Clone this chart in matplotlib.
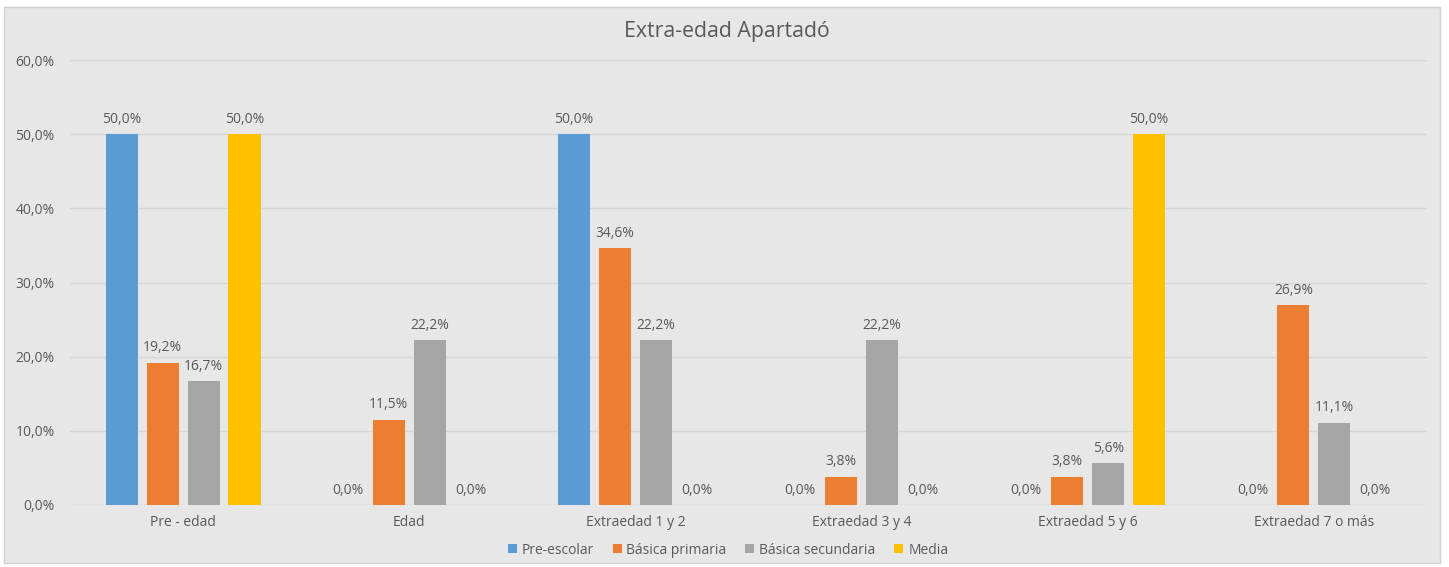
import numpy as np
import matplotlib.pyplot as plt
from matplotlib.patches import Rectangle

categories = ["Pre - edad", "Edad", "Extraedad 1 y 2", "Extraedad 3 y 4",
              "Extraedad 5 y 6", "Extraedad 7 o más"]
series_names = ["Pre-escolar", "Básica primaria", "Básica secundaria", "Media"]
pre_escolar = [50.0, 0.0, 50.0, 0.0, 0.0, 0.0]
basica_primaria = [19.2, 11.5, 34.6, 3.8, 3.8, 26.9]
basica_secundaria = [16.7, 22.2, 22.2, 22.2, 5.6, 11.1]
media = [50.0, 0.0, 0.0, 0.0, 50.0, 0.0]
y_ticks = [0, 10, 20, 30, 40, 50, 60]

colors = ["#5B9BD5", "#ED7D31", "#A5A5A5", "#FFC000"]
text_color = "#595959"
bg = "#E7E7E7"

plt.rcParams["font.family"] = ["Open Sans", "DejaVu Sans"]


def pct(v):
    return f"{v:.1f}%".replace(".", ",")


W, H = 1449, 567
fig = plt.figure(figsize=(W / 100, H / 100), dpi=100, facecolor="white")
fig.patches.append(Rectangle((4 / W, 4 / H), 1436 / W, 556 / H, transform=fig.transFigure,
                             facecolor=bg, edgecolor="#D0D0D0", linewidth=1, zorder=-10))

ax = fig.add_axes([70 / W, 62 / H, 1357 / W, 445 / H])
ax.set_zorder(1)
ax.patch.set_alpha(0)

x = np.arange(len(categories))
bw = 0.1416
step = 0.181
all_series = [pre_escolar, basica_primaria, basica_secundaria, media]
for i, (name, vals) in enumerate(zip(series_names, all_series)):
    pos = x + (i - 1.5) * step
    ax.bar(pos, vals, width=bw, color=colors[i], label=name, zorder=3)
    for p, v in zip(pos, vals):
        ax.text(p, v + 1.0, pct(v), ha="center", va="bottom", fontsize=10,
                color=text_color, zorder=4)

ax.set_xlim(-0.5, len(categories) - 0.5)
ax.set_ylim(0, 60)
ax.set_yticks(y_ticks)
ax.set_yticklabels([pct(t) for t in y_ticks])
ax.set_xticks(x)
ax.set_xticklabels(categories)
ax.tick_params(axis="both", length=0, labelsize=10, colors=text_color)
ax.tick_params(axis="y", pad=11)
ax.tick_params(axis="x", pad=7)
ax.grid(axis="y", color="#D6D6D6", linewidth=1, zorder=0)
for s in ax.spines.values():
    s.set_visible(False)

fig.text(727 / W, 1 - 32 / H, "Extra-edad Apartadó", fontsize=15.3, color=text_color,
         ha="center", va="center")

leg = fig.legend(loc="center", bbox_to_anchor=(728 / W, 1 - 550 / H), ncol=4,
                 frameon=False, fontsize=10, handlelength=0.65, handleheight=0.65,
                 handletextpad=0.35, columnspacing=1.35)
leg.set_zorder(2)
for t in leg.get_texts():
    t.set_color(text_color)

fig.savefig("out.png", dpi=100, facecolor="white")
